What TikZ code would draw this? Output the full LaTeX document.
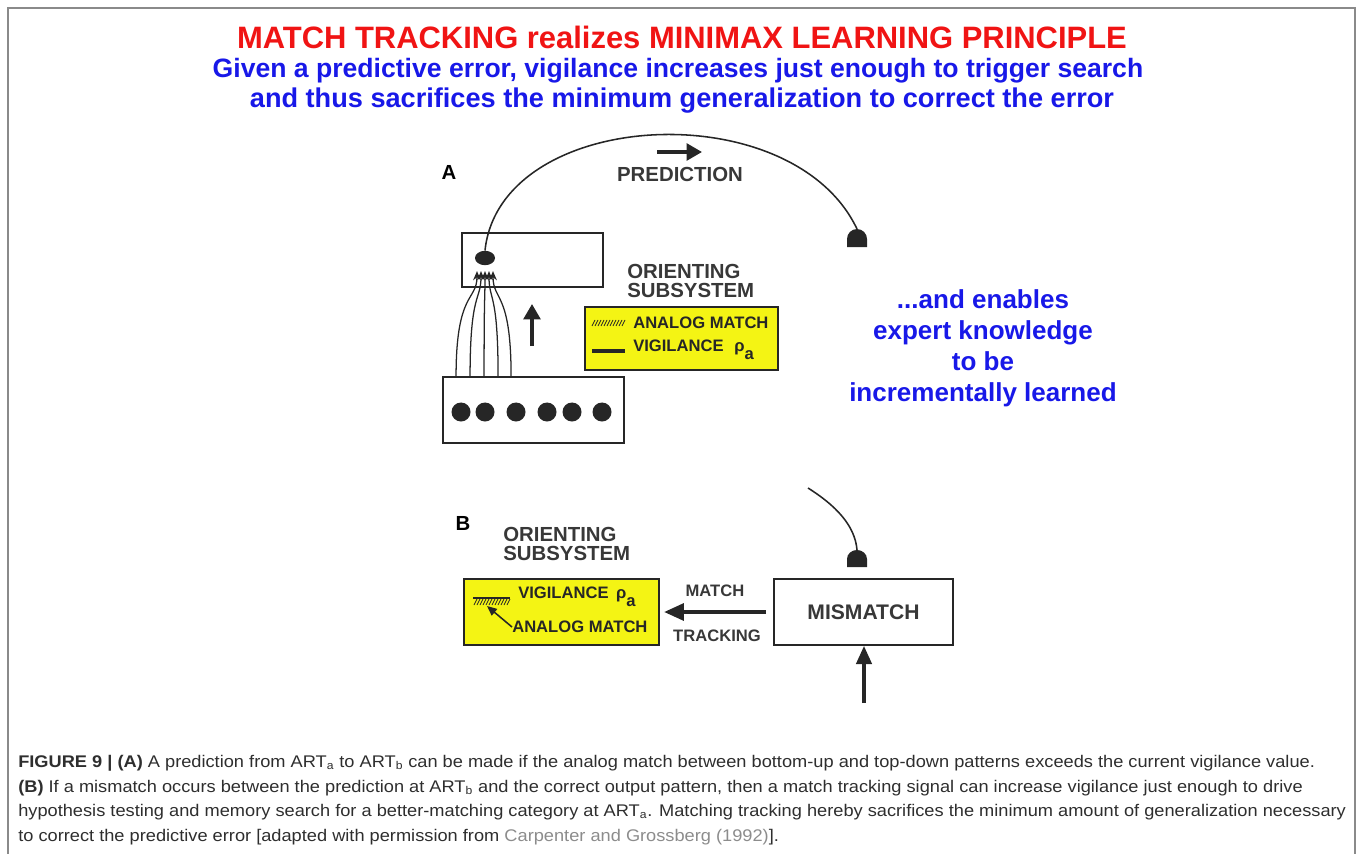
\documentclass[tikz,border=0pt]{standalone}
\usepackage{fontspec}
\setmainfont{Liberation Sans}
\newfontfamily\capfont{Liberation Sans}[FakeStretch=1.08]
\usetikzlibrary{arrows.meta,positioning,shapes.geometric}

\definecolor{titlered}{HTML}{F01414}
\definecolor{textblue}{HTML}{1818E8}
\definecolor{boxyellow}{HTML}{F4F414}
\definecolor{inkgray}{HTML}{262626}
\definecolor{labelgray}{HTML}{383838}
\definecolor{capgray}{HTML}{2E2E2E}
\definecolor{refgray}{HTML}{8C8C8C}
\definecolor{framegray}{HTML}{8A8A8A}

\begin{document}
\begin{tikzpicture}[x=0.025cm, y=-0.025cm,
    netbox/.style={draw=inkgray, line width=1.3pt, fill=white, inner sep=0pt},
    yellowbox/.style={draw=inkgray, line width=1.3pt, fill=boxyellow, inner sep=0pt},
    cell/.style={circle, fill=inkgray, inner sep=0pt, minimum size=0.475cm},
    fan/.style={draw=inkgray, line width=0.9pt, -{Stealth[length=6.5pt, width=5.5pt]}},
    bigarrow/.style={draw=inkgray, line width=2.4pt, -{Triangle[length=11pt, width=12pt]}},
    label/.style={font=\bfseries\fontsize{14.5}{13.5}\selectfont, text=labelgray, inner sep=0pt, align=left},
    small/.style={font=\bfseries\fontsize{11.8}{13}\selectfont, text=labelgray, inner sep=0pt},
    panel/.style={font=\bfseries\fontsize{14.5}{16}\selectfont, inner sep=0pt},
    caption/.style={font=\capfont\fontsize{12}{13}\selectfont, text=capgray, inner sep=0pt, anchor=base west}]

    \useasboundingbox (0,0) rectangle (1363,854);

    % Frame of the figure
    \draw[framegray, line width=1.4pt] (8,854) -- (8,8) -- (1355,8) -- (1355,854);

    % Headline
    \node[font=\bfseries\fontsize{22}{24}\selectfont, text=titlered] (title) at (682,37)
        {MATCH TRACKING realizes MINIMAX LEARNING PRINCIPLE};
    \node[font=\bfseries\fontsize{18.9}{20}\selectfont, text=textblue] (sub1) at (678,71)
        {Given a predictive error, vigilance increases just enough to trigger search};
    \node[font=\bfseries\fontsize{19.3}{20}\selectfont, text=textblue] (sub2) at (682,101)
        {and thus sacrifices the minimum generalization to correct the error};

    % Panel A
    \node[panel] (lblA) at (449,172) {A};
    \node[netbox, minimum width=3.525cm, minimum height=1.35cm] (f2) at (532.5,260) {};
    \node[netbox, minimum width=4.525cm, minimum height=1.65cm] (f1) at (533.5,410) {};
    \node[ellipse, fill=inkgray, inner sep=0pt, minimum width=0.5cm, minimum height=0.36cm] (cat) at (485,258) {};
    \foreach \x [count=\i] in {461,485,516,547,572,602}
        \node[cell] (in\i) at (\x,412) {};

    % Bottom-up paths into the category
    \foreach \dx/\ex in {0.35/-0.2, 0.7/-0.1, 1.05/0, 1.4/0.1, 1.725/0.2}
        \draw[fan] ([xshift=\dx cm]f1.north west) .. controls +(0,-85) and +(0,30) .. ([xshift=\ex cm, yshift=-4pt]cat.south);

    % Prediction to the next module
    \fill[inkgray] (847,247) -- (847,239) to[out=90,in=180] (857,229) to[out=0,in=90] (867,239) -- (867,247) -- cycle;
    \coordinate (synA) at (857,229);
    \draw[inkgray, line width=1.1pt] (cat.north) .. controls (500,108) and (792,92) .. (synA);
    \coordinate (predS) at (657,152);
    \coordinate (predE) at (702,152);
    \draw[bigarrow] (predS) -- (predE);
    \node[label] (pred) at (680,174) {PREDICTION};

    \coordinate (upS) at (532,346);
    \coordinate (upE) at (532,304);
    \draw[bigarrow] (upS) -- (upE);

    % Orienting subsystem, panel A
    \node[label, anchor=west] (orientA) at (627,281) {ORIENTING\\SUBSYSTEM};
    \node[yellowbox, minimum width=4.825cm, minimum height=1.575cm] (osA) at (681.5,338.5) {};
    \foreach \k in {0,...,10}
        \draw[inkgray, line width=0.5pt] (592+3*\k,326) -- (595+3*\k,320);
    \draw[inkgray, line width=2.4pt] (592,351) -- (625,351);
    \node[small, anchor=west, text=inkgray] (amA) at (633,323) {ANALOG MATCH};
    \node[small, anchor=west, text=inkgray] (vgA) at (633,350) {VIGILANCE\hspace{0.65em}ρ\raisebox{-0.5em}{a}};

    % Blue remark
    \node[font=\bfseries\fontsize{18.5}{22}\selectfont, text=textblue, align=center] (remark) at (983,348)
        {...and enables\\expert knowledge\\to be\\incrementally learned};

    % Panel B
    \node[panel] (lblB) at (463,523) {B};
    \node[label, anchor=west] (orientB) at (503,544) {ORIENTING\\SUBSYSTEM};
    \node[yellowbox, minimum width=4.875cm, minimum height=1.65cm] (osB) at (561.5,612) {};
    \foreach \k in {0,...,11}
        \draw[inkgray, line width=0.5pt] (474+3*\k,605) -- (477+3*\k,599);
    \draw[inkgray, line width=2pt] (473,598) -- (510,598);
    \node[small, anchor=west, text=inkgray] (vgB) at (518,597) {VIGILANCE\hspace{0.45em}ρ\raisebox{-0.5em}{a}};
    \node[small, anchor=west, text=inkgray] (amB) at (512,627) {ANALOG MATCH};
    \coordinate (hatchB) at (487,606);
    \draw[inkgray, line width=1.1pt, -{Triangle[length=7pt, width=6pt]}] (amB.west) -- (hatchB);

    \node[netbox, minimum width=4.475cm, minimum height=1.65cm] (mis) at (863.5,612) {};
    \node[font=\bfseries\fontsize{15}{17}\selectfont, text=labelgray] at (mis) {MISMATCH};
    \draw[bigarrow, -{Triangle[length=14pt, width=12pt]}, shorten <=5pt, shorten >=3pt] (mis.west) -- (osB.east);
    \node[small] (mtop) at (715,591) {MATCH};
    \node[small] (mbot) at (717,636) {TRACKING};

    \fill[inkgray] (847,567) -- (847,559) to[out=90,in=180] (857,550) to[out=0,in=90] (867,559) -- (867,567) -- cycle;
    \coordinate (synB) at (857,550);
    \coordinate (predB) at (808,488);
    \draw[inkgray, line width=1.1pt] (predB) .. controls (835,505) and (855,525) .. (synB);
    \coordinate (outB) at (864,703);
    \draw[bigarrow, -{Triangle[length=13pt, width=11pt]}] (outB) -- (mis.south -| outB);

    % Caption
    \node[caption] (cap1) at (18,767) {\textbf{FIGURE 9 | (A)} A prediction from ART\textsubscript{a} to ART\textsubscript{b} can be made if the analog match between bottom-up and top-down patterns exceeds the current vigilance value.};
    \node[caption] (cap2) at (18,792) {\textbf{(B)} If a mismatch occurs between the prediction at ART\textsubscript{b} and the correct output pattern, then a match tracking signal can increase vigilance just enough to drive};
    \node[caption] (cap3) at (18,816) {hypothesis testing and memory search for a better-matching category at ART\textsubscript{a}. Matching tracking hereby sacrifices the minimum amount of generalization necessary};
    \node[caption] (cap4) at (18,841) {to correct the predictive error [adapted with permission from \textcolor{refgray}{Carpenter and Grossberg (1992)}].};
\end{tikzpicture}
\end{document}
